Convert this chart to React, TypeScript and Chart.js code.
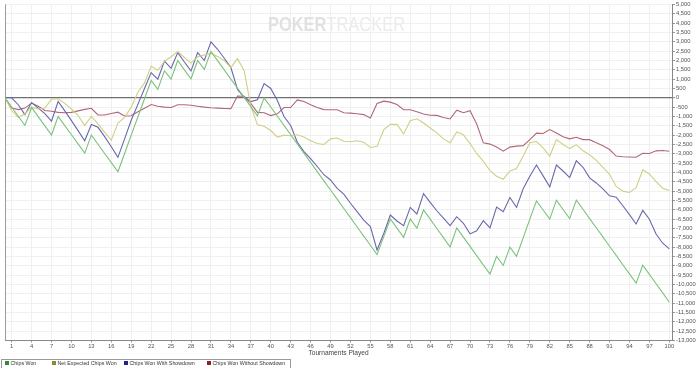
import React, { useEffect, useRef } from 'react';
import { Chart, registerables } from 'chart.js';

Chart.register(...registerables);

const seriesNames = ['Chips Won', 'Net Expected Chips Won', 'Chips Won With Showdown', 'Chips Won Without Showdown'];

const xTickLabels = [1, 4, 7, 10, 13, 16, 19, 22, 25, 28, 31, 34, 37, 40, 43, 46, 49, 52, 55, 58, 61, 64, 67, 70, 73, 76, 79, 82, 85, 88, 91, 94, 97, 100];

const chipsWon = [
  0, -490, -990, -1480, -520, -1010, -1500, -1990, -1000, -1490,
  -1980, -2470, -2960, -2000, -2490, -2980, -3470, -3960, -2980, -2000,
  -1030, -50, 930, 450, 1450, 1000, 2000, 1500, 1020, 2000,
  1520, 2480, 1990, 1500, 1000, 510, 20, -470, -960, 0,
  -490, -990, -1480, -1980, -2470, -2960, -3460, -3950, -4450, -4940,
  -5430, -5930, -6420, -6920, -7410, -7900, -8400, -7450, -6490, -6980,
  -7470, -6490, -6980, -6010, -6500, -7000, -7490, -7990, -6970, -7460,
  -7960, -8450, -8950, -9440, -8490, -8980, -8000, -8490, -7500, -6500,
  -5520, -6010, -6500, -5480, -5980, -6470, -5480, -5970, -6470, -6960,
  -7450, -7950, -8440, -8940, -9430, -9930, -8970, -9460, -9960, -10450,
  -10950,
];

const netExpected = [
  0, -680, -1050, -850, -500, -600, -550, -80, -50, -300,
  -600, -950, -1480, -1000, -1400, -1850, -2270, -1350, -1050, -500,
  300, 800, 1700, 1470, 1950, 2200, 2480, 2160, 1860, 2200,
  2300, 2380, 2220, 1990, 1620, 2100, 1450, -450, -1450, -1520,
  -1750, -2100, -2000, -2030, -1980, -2100, -2300, -2450, -2500, -2200,
  -2150, -2330, -2350, -2300, -2380, -2660, -2600, -1720, -1420, -1420,
  -1940, -1230, -1120, -1350, -1620, -1880, -2200, -2410, -1830, -1980,
  -2450, -2980, -3400, -3900, -4200, -4360, -3920, -3790, -3120, -2410,
  -2340, -2680, -3120, -2240, -2500, -2720, -2520, -2840, -3050, -3350,
  -3720, -4100, -4750, -5000, -5070, -4810, -3860, -4080, -4490, -4840,
  -4970,
];

const withShowdown = [
  0, 0, -370, -900, -250, -550, -850, -1250, -200, -700,
  -1220, -1760, -2300, -1430, -1580, -2080, -2620, -3190, -2200, -1200,
  -350, 500, 1350, 1000, 1970, 1580, 2420, 1920, 1440, 2420,
  2000, 3000, 2600, 2120, 1620, 450, 20, -200, -100, 760,
  500, -140, -1000, -1480, -2380, -2880, -3260, -3680, -4120, -4400,
  -4850, -5160, -5650, -6100, -6550, -6900, -8150, -7280, -6280, -6600,
  -6850, -5870, -6220, -5130, -5600, -6050, -6440, -6850, -6370, -6720,
  -7290, -7120, -6580, -6970, -5850, -6100, -5340, -5870, -4870, -4200,
  -3600, -4180, -4770, -3600, -3920, -4270, -3370, -3720, -4290, -4560,
  -4880, -5250, -5320, -5780, -6260, -6760, -6030, -6500, -7300, -7790,
  -8090,
];

const withoutShowdown = [
  0, -550, -630, -550, -280, -450, -680, -720, -780, -800,
  -780, -700, -620, -560, -920, -920, -840, -770, -970, -960,
  -750, -560, -360, -450, -500, -520, -370, -370, -400, -450,
  -500, -530, -550, -570, -580, 100, 80, -300, -780, -800,
  -950, -860, -520, -520, -110, -200, -370, -520, -630, -640,
  -640, -800, -820, -850, -900, -1080, -300, -180, -230, -360,
  -640, -640, -750, -870, -930, -940, -1050, -1130, -660, -800,
  -690, -1400, -2410, -2480, -2640, -2860, -2640, -2590, -2560, -2240,
  -1890, -1910, -1700, -1880, -2080, -2200, -2110, -2240, -2240, -2410,
  -2570, -2770, -3120, -3160, -3170, -3180, -2970, -2980, -2840, -2820,
  -2860,
];

const lineColors = ['#7cc27c', '#cfcf86', '#6868ac', '#b06878'];
const legendColors = ['#2e8b2e', '#8c8c2a', '#23238c', '#8c2323'];
const FONT = '"Liberation Sans", Arial, sans-serif';
const TICK_FONT = 5.8;

const toPoints = (arr: number[]) => arr.map((v, i) => ({ x: i, y: v }));

const decorPlugin = {
  id: 'decor',
  beforeDatasetsDraw(chart: any) {
    const { ctx, chartArea } = chart;
    ctx.save();
    // watermark
    ctx.textBaseline = 'alphabetic';
    const big = `bold 21px ${FONT}`;
    const thin = `21px ${FONT}`;
    ctx.font = big;
    const w1 = ctx.measureText('POKER').width;
    ctx.font = thin;
    const w2 = ctx.measureText('TRACKER').width;
    const sx = 137 / (w1 + w2);
    ctx.translate(268, 31);
    ctx.scale(sx, 1);
    ctx.font = big;
    ctx.fillStyle = '#e1e1e1';
    ctx.fillText('POKER', 0, 0);
    ctx.font = thin;
    ctx.fillStyle = '#ebebeb';
    ctx.fillText('TRACKER', w1, 0);
    ctx.setTransform(1, 0, 0, 1, 0, 0);
    // left border
    ctx.strokeStyle = '#9a9a9a';
    ctx.lineWidth = 1;
    ctx.beginPath();
    ctx.moveTo(Math.round(chartArea.left) + 0.5, chartArea.top);
    ctx.lineTo(Math.round(chartArea.left) + 0.5, chartArea.bottom);
    ctx.stroke();
    ctx.restore();
  },
  afterDraw(chart: any) {
    const { ctx } = chart;
    const itemX = [5, 52, 124, 207];
    ctx.save();
    ctx.strokeStyle = '#9a9a9a';
    ctx.lineWidth = 1;
    ctx.strokeRect(1.5, 359.5, 289, 14);
    ctx.font = `5.3px ${FONT}`;
    ctx.textBaseline = 'middle';
    ctx.textAlign = 'left';
    seriesNames.forEach((n, i) => {
      ctx.fillStyle = legendColors[i];
      ctx.fillRect(itemX[i], 361, 4, 4);
      ctx.fillStyle = '#333';
      ctx.fillText(n, itemX[i] + 5.5, 363.2);
    });
    ctx.restore();
  },
};

export default function App() {
  const ref = useRef<HTMLCanvasElement | null>(null);
  useEffect(() => {
    if (!ref.current) return;
    const all = [chipsWon, netExpected, withShowdown, withoutShowdown];
    const chart = new Chart(ref.current, {
      type: 'line',
      data: {
        datasets: all.map((arr, i) => ({
          label: seriesNames[i],
          data: toPoints(arr),
          borderColor: lineColors[i],
          backgroundColor: legendColors[i],
          borderWidth: 1.1,
          pointRadius: 0,
          tension: 0,
          fill: false,
        })),
      },
      options: {
        animation: false,
        responsive: false,
        layout: { padding: { left: 5, right: 0, top: -1, bottom: 11 } },
        plugins: {
          legend: { display: false },
          tooltip: { enabled: false },
        },
        scales: {
          x: {
            type: 'linear',
            min: 0,
            max: 100.4,
            afterBuildTicks: (scale: any) => {
              scale.ticks = xTickLabels.map((v) => ({ value: v }));
            },
            afterFit: (scale: any) => {
              scale.height = 16.5;
            },
            ticks: {
              autoSkip: false,
              maxRotation: 0,
              padding: 0,
              color: '#555',
              font: { size: TICK_FONT, family: FONT },
              callback: (v: any) => String(v),
            },
            grid: { color: '#f0f0f0', tickColor: '#999', tickLength: 2 },
            border: { color: '#888' },
            title: {
              display: true,
              text: 'Tournaments Played',
              color: '#444',
              font: { size: 6.6, family: FONT },
              padding: { top: 0, bottom: 0 },
            },
          },
          y: {
            position: 'right',
            min: -13000,
            max: 5000,
            afterBuildTicks: (scale: any) => {
              const t = [];
              for (let v = -13000; v <= 5000; v += 500) t.push({ value: v });
              scale.ticks = t;
            },
            afterFit: (scale: any) => {
              scale.width = 28;
            },
            ticks: {
              autoSkip: false,
              padding: 1,
              color: '#555',
              font: { size: TICK_FONT, family: FONT },
              callback: (v: any) => Number(v).toLocaleString('en-US'),
            },
            grid: {
              color: (c: any) => (c.tick && c.tick.value === 0 ? '#707070' : '#f0f0f0'),
              lineWidth: (c: any) => (c.tick && c.tick.value === 0 ? 1.2 : 1),
              tickColor: '#999',
              tickLength: 3,
            },
            border: { color: '#888' },
          },
        },
      },
      plugins: [decorPlugin],
    });
    return () => chart.destroy();
  }, []);
  return (
    <div style={{ position: 'fixed', left: 0, top: 0, width: 700, height: 368, background: '#fff' }}>
      <canvas ref={ref} width={700} height={368} style={{ width: 700, height: 368, display: 'block' }} />
    </div>
  );
}
